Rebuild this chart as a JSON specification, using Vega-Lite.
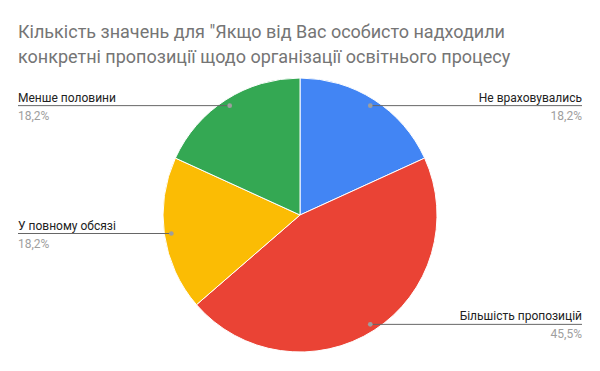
{
  "$schema": "https://vega.github.io/schema/vega-lite/v6.json",
  "width": 600,
  "height": 300,
  "padding": {"left": 0, "top": 24, "right": 0, "bottom": 0},
  "background": "#ffffff",
  "title": {
    "text": ["Кількість значень для \"Якщо від Вас особисто надходили", "конкретні пропозиції щодо організації освітнього процесу"],
    "anchor": "start",
    "frame": "group",
    "dx": 18,
    "offset": 0,
    "font": "Roboto",
    "fontSize": 18,
    "fontWeight": "normal",
    "lineHeight": 25,
    "color": "#757575"
  },
  "config": {
    "view": {"stroke": null},
    "locale": {"number": {"decimal": ",", "thousands": " ", "grouping": [3], "currency": ["", " ₴"]}}
  },
  "data": {
    "values": [
      {"label": "Не враховувались", "value": 2},
      {"label": "Більшість пропозицій", "value": 5},
      {"label": "У повному обсязі", "value": 2},
      {"label": "Менше половини", "value": 2}
    ]
  },
  "transform": [
    {"window": [{"op": "row_number", "as": "i"}, {"op": "sum", "field": "value", "as": "cum"}], "frame": [null, 0]},
    {"joinaggregate": [{"op": "sum", "field": "value", "as": "total"}]},
    {"calculate": "datum.value / datum.total", "as": "pct"},
    {"calculate": "(datum.cum - datum.value / 2) / datum.total * 2 * PI", "as": "mid"},
    {"calculate": "130 * sin(datum.mid)", "as": "px"},
    {"calculate": "-130 * cos(datum.mid)", "as": "py"},
    {"calculate": "datum.px > 0 ? 282 : -282", "as": "ex"}
  ],
  "layer": [
    {
      "mark": {"type": "arc", "outerRadius": 137, "stroke": "#ffffff", "strokeWidth": 1},
      "encoding": {
        "x": {"datum": 0, "type": "quantitative", "scale": {"domain": [-300, 300], "nice": false, "zero": false}, "axis": null},
        "y": {"datum": 0, "type": "quantitative", "scale": {"domain": [-148, 152], "nice": false, "zero": false, "reverse": true}, "axis": null},
        "theta": {"field": "value", "type": "quantitative", "stack": true},
        "order": {"field": "i", "type": "quantitative"},
        "color": {
          "field": "label", "type": "nominal", "legend": null,
          "scale": {"domain": ["Не враховувались", "Більшість пропозицій", "У повному обсязі", "Менше половини"], "range": ["#4285f4", "#ea4335", "#fbbc04", "#34a853"]}
        }
      }
    },
    {
      "mark": {"type": "rule", "color": "#666666", "strokeWidth": 1},
      "encoding": {
        "x": {"field": "px", "type": "quantitative"},
        "x2": {"field": "ex"},
        "y": {"field": "py", "type": "quantitative"}
      }
    },
    {
      "mark": {"type": "point", "filled": true, "size": 22, "color": "#9e9e9e", "opacity": 1},
      "encoding": {
        "x": {"field": "px", "type": "quantitative"},
        "y": {"field": "py", "type": "quantitative"}
      }
    },
    {
      "transform": [{"filter": "datum.px > 0"}],
      "mark": {"type": "text", "align": "right", "baseline": "alphabetic", "dy": -4, "font": "Roboto", "fontSize": 12, "color": "#222222"},
      "encoding": {
        "x": {"field": "ex", "type": "quantitative"},
        "y": {"field": "py", "type": "quantitative"},
        "text": {"field": "label"}
      }
    },
    {
      "transform": [{"filter": "datum.px > 0"}],
      "mark": {"type": "text", "align": "right", "baseline": "alphabetic", "dy": 14, "font": "Roboto", "fontSize": 12, "color": "#9e9e9e"},
      "encoding": {
        "x": {"field": "ex", "type": "quantitative"},
        "y": {"field": "py", "type": "quantitative"},
        "text": {"field": "pct", "type": "quantitative", "format": ".1%"}
      }
    },
    {
      "transform": [{"filter": "datum.px <= 0"}],
      "mark": {"type": "text", "align": "left", "baseline": "alphabetic", "dy": -4, "font": "Roboto", "fontSize": 12, "color": "#222222"},
      "encoding": {
        "x": {"field": "ex", "type": "quantitative"},
        "y": {"field": "py", "type": "quantitative"},
        "text": {"field": "label"}
      }
    },
    {
      "transform": [{"filter": "datum.px <= 0"}],
      "mark": {"type": "text", "align": "left", "baseline": "alphabetic", "dy": 14, "font": "Roboto", "fontSize": 12, "color": "#9e9e9e"},
      "encoding": {
        "x": {"field": "ex", "type": "quantitative"},
        "y": {"field": "py", "type": "quantitative"},
        "text": {"field": "pct", "type": "quantitative", "format": ".1%"}
      }
    }
  ]
}
